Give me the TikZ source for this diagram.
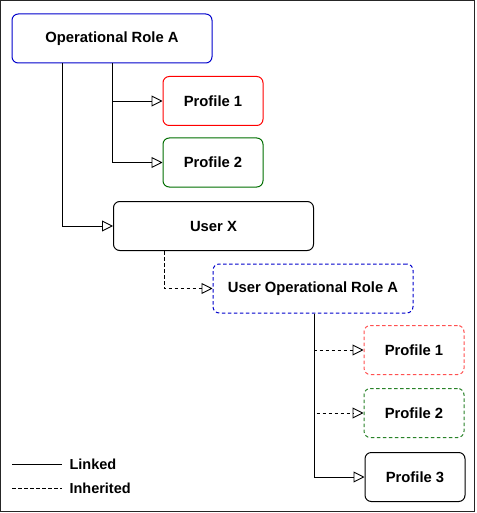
\documentclass[tikz,border=0pt]{standalone}
\usepackage{fontspec}
\setmainfont{Liberation Sans}
\usetikzlibrary{positioning,arrows.meta}

\definecolor{roleblue}{RGB}{0,0,204}
\definecolor{profred}{RGB}{255,0,0}
\definecolor{profgreen}{RGB}{0,110,0}
\definecolor{inhred}{RGB}{255,80,80}
\definecolor{inhgreen}{RGB}{40,130,40}

\begin{document}
\begin{tikzpicture}[x=1pt, y=-1pt,
every node/.style={rectangle, draw=black, rounded corners=2.2mm, fill=white, line width=1pt,
        align=center, font=\bfseries\fontsize{14.8}{17}\selectfont, inner sep=0pt},
role/.style={minimum width=200pt, minimum height=49pt},
profile/.style={minimum width=100pt, minimum height=49pt},
inh/.style={dashed, dash pattern=on 3.5pt off 2.5pt},
link/.style={draw=black, line width=0.9pt, -{Triangle[open, length=11pt, width=11pt]}},
note/.style={draw=none, fill=none, rounded corners=0pt, font=\fontsize{14.5}{17}\selectfont\bfseries, anchor=west}
]
  \useasboundingbox (0,0) rectangle (476,513);
  \draw[line width=1.4pt, draw=black!85] (0.7,0.7) rectangle (474.3,511.3);

  % operational role and its profiles
  \node [role, draw=roleblue] (oprole) at (112,38.5) {Operational Role A};
  \node [profile, draw=profred] (prof1) at (213,101) {Profile 1};
  \node [profile, draw=profgreen] (prof2) at (213,162.5) {Profile 2};
  \node [role] (userx) at (213.5,226) {User X};
  \node [role, inh, draw=roleblue] (userrole) at (313,288.5) {User Operational Role A};
  \node [profile, inh, draw=inhred] (uprof1) at (414,350) {Profile 1};
  \node [profile, inh, draw=inhgreen] (uprof2) at (414,413) {Profile 2};
  \node [profile] (uprof3) at (415,477) {Profile 3};

  % connectors
  \draw [link] (oprole.south -| 62,0) |- (userx.west);
  \draw [link] (oprole.south -| 112,0) |- (prof1.west);
  \draw [link] (oprole.south -| 112,0) |- (prof2.west);
  \draw [link, inh] (userx.south -| 164,0) |- (userrole.west);
  \draw [link, inh] (userrole.south -| 314,0) |- (uprof1.west);
  \draw [link, inh] (userrole.south -| 314,0) |- (uprof2.west);
  \draw [link] (userrole.south -| 314,0) |- (uprof3.west);

  % legend
  \coordinate (lin1) at (12,464);
  \coordinate (lin2) at (62,464);
  \coordinate (inh1) at (12,488);
  \coordinate (inh2) at (62,488);
  \draw [line width=0.9pt] (lin1) -- (lin2);
  \draw [line width=0.9pt, inh] (inh1) -- (inh2);
  \node [note] (linked) at (69,464) {Linked};
  \node [note] (inherited) at (69,488) {Inherited};
\end{tikzpicture}
\end{document}
